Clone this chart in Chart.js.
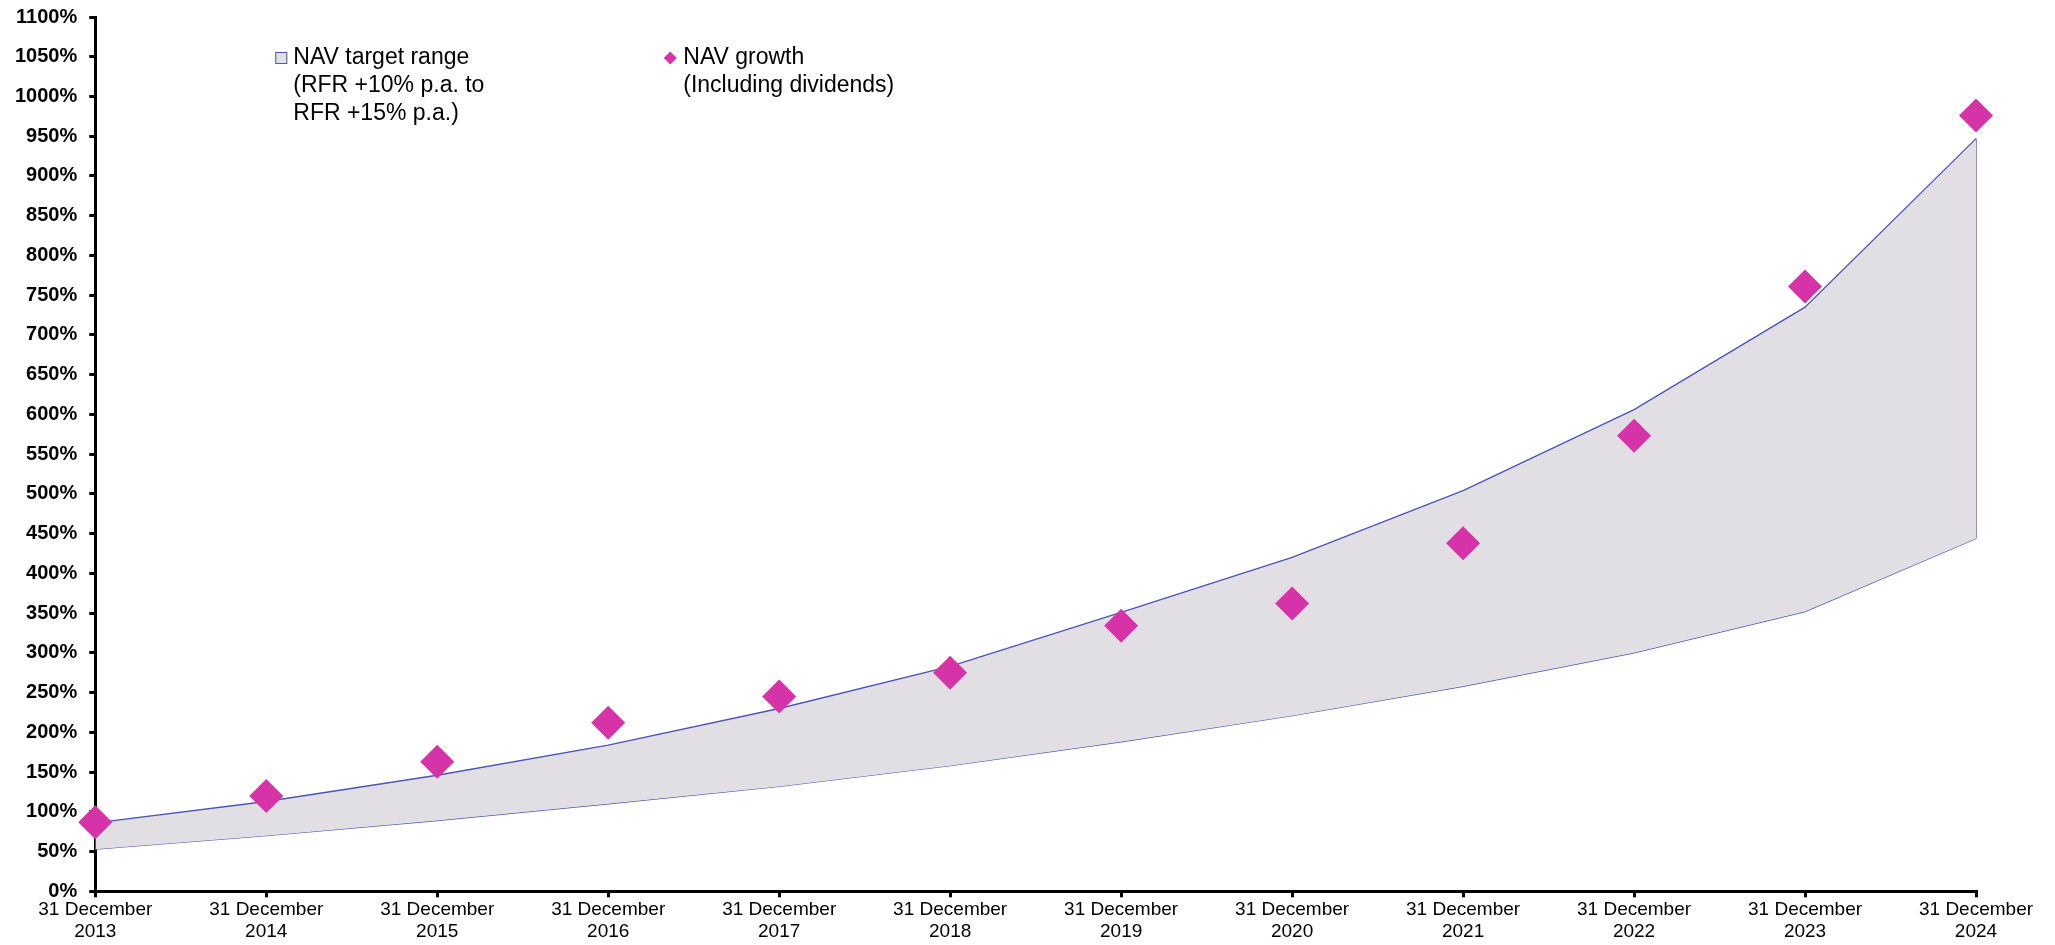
<!DOCTYPE html>
<html>
<head>
<meta charset="utf-8">
<script src="https://cdn.jsdelivr.net/npm/chart.js@4.4.1/dist/chart.umd.min.js"></script>
<style>
  html, body { margin: 0; padding: 0; background: #fff; }
  #wrap { width: 2055px; height: 945px; position: relative; }
</style>
</head>
<body>
<div id="wrap"><canvas id="navChart"></canvas></div>
<script>
// data
const years = ['2013', '2014', '2015', '2016', '2017', '2018', '2019', '2020', '2021', '2022', '2023', '2024'];
const navGrowth = [87, 120, 163, 212, 245, 275, 334, 362, 438, 573, 761, 976];
const targetLow = [53, 70, 89, 110, 132, 158, 188, 221, 258, 300, 352, 444];
const targetHigh = [86, 113, 146, 184, 230, 283, 351, 420, 504, 606, 735, 947];
const yTicksMax = 1100;
const yStep = 50;

const labels = years.map(y => ['31 December', y]);

const lineBlue = '#4B55B5';
const areaFill = '#E1DFE4';
const magenta = '#D633A8';

// closes the band on the right side and draws the legend
const extras = {
  id: 'extras',
  beforeDatasetsDraw(chart) {
    const lo = chart.getDatasetMeta(1).data;
    const hi = chart.getDatasetMeta(2).data;
    const a = lo[lo.length - 1], b = hi[hi.length - 1];
    const ctx = chart.ctx;
    ctx.save();
    ctx.strokeStyle = lineBlue;
    ctx.lineWidth = 1.3;
    ctx.beginPath();
    ctx.moveTo(a.x, a.y);
    ctx.lineTo(b.x, b.y);
    ctx.stroke();
    ctx.restore();
  },
  afterDraw(chart) {
    const ctx = chart.ctx;
    const left = chart.chartArea.left;
    const top = chart.chartArea.top;
    ctx.save();
    ctx.font = '23px "Liberation Sans", Arial, sans-serif';
    ctx.textBaseline = 'middle';

    // item 1
    let x = left + 180, y = top + 41;
    ctx.fillStyle = areaFill;
    ctx.fillRect(x, y - 6, 12, 12);
    ctx.strokeStyle = lineBlue;
    ctx.lineWidth = 1;
    ctx.strokeRect(x + 0.5, y - 5.5, 11, 11);
    ctx.fillStyle = '#000';
    ['NAV target range', '(RFR +10% p.a. to', 'RFR +15% p.a.)'].forEach((t, i) => {
      ctx.fillText(t, x + 18, y + i * 28);
    });

    // item 2
    x = left + 575;
    ctx.fillStyle = magenta;
    ctx.beginPath();
    ctx.moveTo(x - 6.5, y);
    ctx.lineTo(x, y - 6.5);
    ctx.lineTo(x + 6.5, y);
    ctx.lineTo(x, y + 6.5);
    ctx.closePath();
    ctx.fill();
    ctx.fillStyle = '#000';
    ['NAV growth', '(Including dividends)'].forEach((t, i) => {
      ctx.fillText(t, x + 13, y + i * 28);
    });
    ctx.restore();
  }
};

new Chart(document.getElementById('navChart'), {
  type: 'line',
  data: {
    labels: labels,
    datasets: [
      {
        label: 'NAV growth (Including dividends)',
        data: navGrowth,
        showLine: false,
        pointStyle: 'rectRot',
        pointRadius: 17,
        pointHoverRadius: 17,
        pointBackgroundColor: magenta,
        pointBorderWidth: 0,
        order: 0
      },
      {
        label: 'Target low',
        data: targetLow,
        borderColor: lineBlue,
        borderWidth: 1.3,
        pointRadius: 0,
        fill: false,
        tension: 0,
        order: 2
      },
      {
        label: 'NAV target range (RFR +10% p.a. to RFR +15% p.a.)',
        data: targetHigh,
        borderColor: lineBlue,
        borderWidth: 1.3,
        backgroundColor: areaFill,
        pointRadius: 0,
        fill: '-1',
        tension: 0,
        order: 1
      }
    ]
  },
  options: {
    responsive: true,
    maintainAspectRatio: false,
    animation: false,
    layout: { padding: { left: 3, right: 79, top: 0, bottom: 0 } },
    plugins: {
      legend: { display: false },
      tooltip: { enabled: false }
    },
    scales: {
      x: {
        offset: false,
        grid: { display: true, drawOnChartArea: false, drawTicks: true, tickLength: 6, color: '#000', lineWidth: 3 },
        border: { display: true, color: '#000', width: 3 },
        ticks: {
          color: '#000',
          maxRotation: 0,
          autoSkip: false,
          padding: 2,
          font: { family: '"Liberation Sans", Arial, sans-serif', size: 19, lineHeight: 1.15 }
        }
      },
      y: {
        min: 0,
        max: yTicksMax,
        grid: { display: true, drawOnChartArea: false, drawTicks: true, tickLength: 6, color: '#000', lineWidth: 3 },
        border: { display: true, color: '#000', width: 3 },
        ticks: {
          stepSize: yStep,
          color: '#000',
          padding: 12,
          callback: v => v + '%',
          font: { family: '"Liberation Sans", Arial, sans-serif', size: 20, weight: 'bold', lineHeight: 0.4 }
        }
      }
    }
  },
  plugins: [extras]
});
</script>
</body>
</html>
